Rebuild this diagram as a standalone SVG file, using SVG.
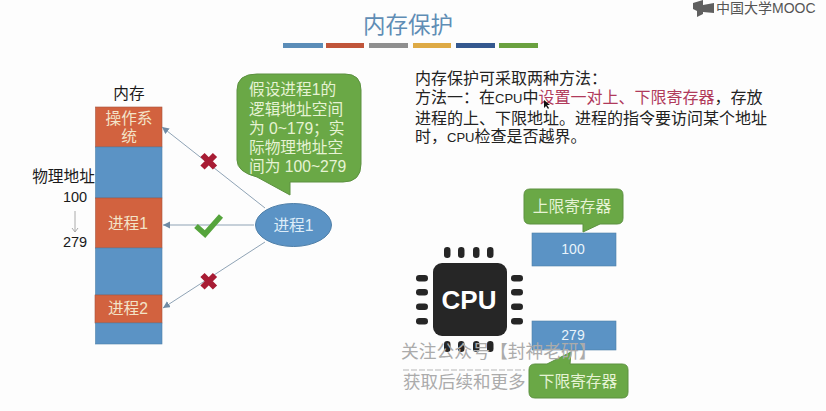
<svg xmlns="http://www.w3.org/2000/svg" width="826" height="411" viewBox="0 0 826 411">
<style>
text{font-family:"Liberation Sans","Noto Sans CJK SC",sans-serif;}
.m{text-anchor:middle;dominant-baseline:central;}
.b{fill:#5b93c5;stroke:#4f81a8;stroke-width:.6;}
.o{fill:#d2623f;stroke:#a9553c;stroke-width:.6;}
.g{fill:#6aa846;stroke:#5c9140;stroke-width:1;}
.lt{fill:#f3e3c8;font-size:15.700px;}
.gt{fill:#e6f3d4;font-size:15.700px;}
.k{fill:#1a1a1a;font-size:15.700px;}
.n{fill:#1a1a1a;font-size:14.500px;}
.p{fill:#222;font-size:16px;}
.u{font-size:13px;}
.w{fill:#ababab;}
.c{stroke:#8fa3b5;stroke-width:1;fill:none;marker-end:url(#a);}
.x{stroke:#a81c34;stroke-width:6;fill:none;}
</style>
<defs><marker id="a" markerWidth="8" markerHeight="8" refX="7" refY="3.500" orient="auto" markerUnits="userSpaceOnUse"><path d="M0 0L7 3.500L0 7z" fill="#6f8ba5"/></marker></defs>
<rect width="826" height="411" fill="#fdfdfd"/>
<g id="title">
<text class="m" x="408" y="25" font-size="22.500" fill="#5f8db5">内存保护</text>
<rect x="283" y="43" width="40" height="5" fill="#5b8db8"/>
<rect x="326" y="43" width="38" height="5" fill="#c0553a"/>
<rect x="369" y="43" width="39" height="5" fill="#8f8f8f"/>
<rect x="413" y="43" width="38" height="5" fill="#deaa45"/>
<rect x="456" y="43" width="39" height="5" fill="#34588f"/>
<rect x="499" y="43" width="39" height="5" fill="#6aa13f"/>
</g>
<g id="logo">
<path d="M693 3L703 0L703 5L714 3V13L703 12V14L697 17L697 11L693 9z" fill="#5f5f5f"/>
<text x="716" y="13" font-size="14" fill="#555">中国大学MOOC</text>
</g>
<g id="memory">
<text class="m k" x="129" y="93">内存</text>
<rect class="o" x="95.500" y="107" width="66.500" height="40"/>
<rect class="b" x="95.500" y="147" width="66.500" height="51"/>
<rect class="o" x="95.500" y="198" width="66.500" height="50"/>
<rect class="b" x="95.500" y="248" width="66.500" height="47"/>
<rect class="o" x="95" y="295" width="67" height="28"/>
<rect class="b" x="95.500" y="323" width="66.500" height="21"/>
<text class="m lt" x="129" y="118">操作系</text><text class="m lt" x="129" y="136">统</text>
<text class="m lt" x="128" y="223">进程1</text>
<text class="m lt" x="128" y="308">进程2</text>
</g>
<g id="addr">
<text class="k m" x="63.500" y="176">物理地址</text>
<text class="n m" x="75" y="197">100</text>
<path d="M75 211V232M72 228L75 232L78 228" stroke="#aaa" fill="none"/>
<text class="n m" x="75" y="242">279</text>
</g>
<g id="connectors">
<path class="c" d="M265 208L162 127"/>
<path class="c" d="M254 225L163 225"/>
<path class="c" d="M265 242L163 308"/>
<path class="x" d="M202.500 155L215 167.500M215 155L202.500 167.500"/>
<path class="x" d="M202.500 275L215 287.500M215 275L202.500 287.500"/>
<path d="M196 226L205 234L221 216" stroke="#55a43c" stroke-width="5.500" fill="none"/>
</g>
<g id="process1">
<ellipse cx="293.500" cy="225" rx="38" ry="21.500" fill="#5b93c5" stroke="#4f7fa8"/>
<text class="m" x="293.500" y="225" font-size="15.700" fill="#dcecf8">进程1</text>
</g>
<g id="callout">
<path class="g" d="M257 74H345Q361 74 361 90V164Q361 182 343 182H290V195L257 177Q237 172 237 160V90Q237 74 257 74z"/>
<text class="gt" x="249" y="95">假设进程1的</text>
<text class="gt" x="249" y="115">逻辑地址空间</text>
<text class="gt" x="249" y="134">为 0~179&#xFF1B;实</text>
<text class="gt" x="249" y="153">际物理地址空</text>
<text class="gt" x="249" y="172">间为 100~279</text>
</g>
<g id="desc">
<text class="p" x="415" y="84">内存保护可采取两种方法&#xFF1A;</text>
<text class="p" x="415" y="103">方法一&#xFF1A;在<tspan class="u">CPU</tspan>中<tspan fill="#b03a5b">设置一对上、下限寄存器</tspan>&#xFF0C;存放</text>
<text class="p" x="415" y="124">进程的上、下限地址。进程的指令要访问某个地址</text>
<text class="p" x="415" y="142">时&#xFF0C;<tspan class="u">CPU</tspan>检查是否越界。</text>
<path d="M544 100L544 108L546 106L548 109L549 108L547 105L550 105z" fill="#111"/>
</g>
<g id="cpu">
<rect x="433" y="263" width="74" height="73" rx="9" fill="#262626"/>
<text class="m" x="469" y="300" font-size="26" font-weight="bold" fill="#fff">CPU</text>
<g fill="#262626">
<rect x="444" y="247" width="6.500" height="11" rx="3.200"/><rect x="458" y="247" width="6.500" height="11" rx="3.200"/><rect x="473" y="247" width="6.500" height="11" rx="3.200"/><rect x="487" y="247" width="6.500" height="11" rx="3.200"/>
<rect x="444" y="341" width="6.500" height="11" rx="3.200"/><rect x="458" y="341" width="6.500" height="11" rx="3.200"/><rect x="473" y="341" width="6.500" height="11" rx="3.200"/><rect x="487" y="341" width="6.500" height="11" rx="3.200"/>
<rect x="416" y="275" width="12" height="6.500" rx="3.200"/><rect x="416" y="289" width="12" height="6.500" rx="3.200"/><rect x="416" y="303.500" width="12" height="6.500" rx="3.200"/><rect x="416" y="318" width="12" height="6.500" rx="3.200"/>
<rect x="511" y="275" width="12" height="6.500" rx="3.200"/><rect x="511" y="289" width="12" height="6.500" rx="3.200"/><rect x="511" y="303.500" width="12" height="6.500" rx="3.200"/><rect x="511" y="318" width="12" height="6.500" rx="3.200"/>
</g>
</g>
<g id="upper">
<rect class="b" x="532" y="233" width="84" height="33"/>
<text class="m" x="573" y="249" font-size="14" fill="#e8f3fb">100</text>
<path class="g" d="M530 189H617Q623 189 623 195V218Q623 224 617 224H600L583 232V224H530Q524 224 524 218V195Q524 189 530 189z"/>
<text class="m gt" x="572" y="206">上限寄存器</text>
</g>
<g id="lower">
<rect class="b" x="532" y="321" width="84" height="29"/>
<text class="m" x="573" y="335" font-size="14" fill="#e8f3fb">279</text>
<path class="g" d="M535 364H547L571 352L570 364H622Q628 364 628 370V392Q628 398 622 398H535Q529 398 529 392V370Q529 364 535 364z"/>
<text class="m gt" x="578" y="381">下限寄存器</text>
</g>
<g id="watermark">
<text class="w" x="401" y="358" font-size="17.800">关注公众号【封神老研】</text>
<path d="M403 370H525" stroke="#b5b5b5" stroke-dasharray="6 2"/>
<text class="w" x="403" y="388" font-size="17.500">获取后续和更多</text>
</g>
</svg>
